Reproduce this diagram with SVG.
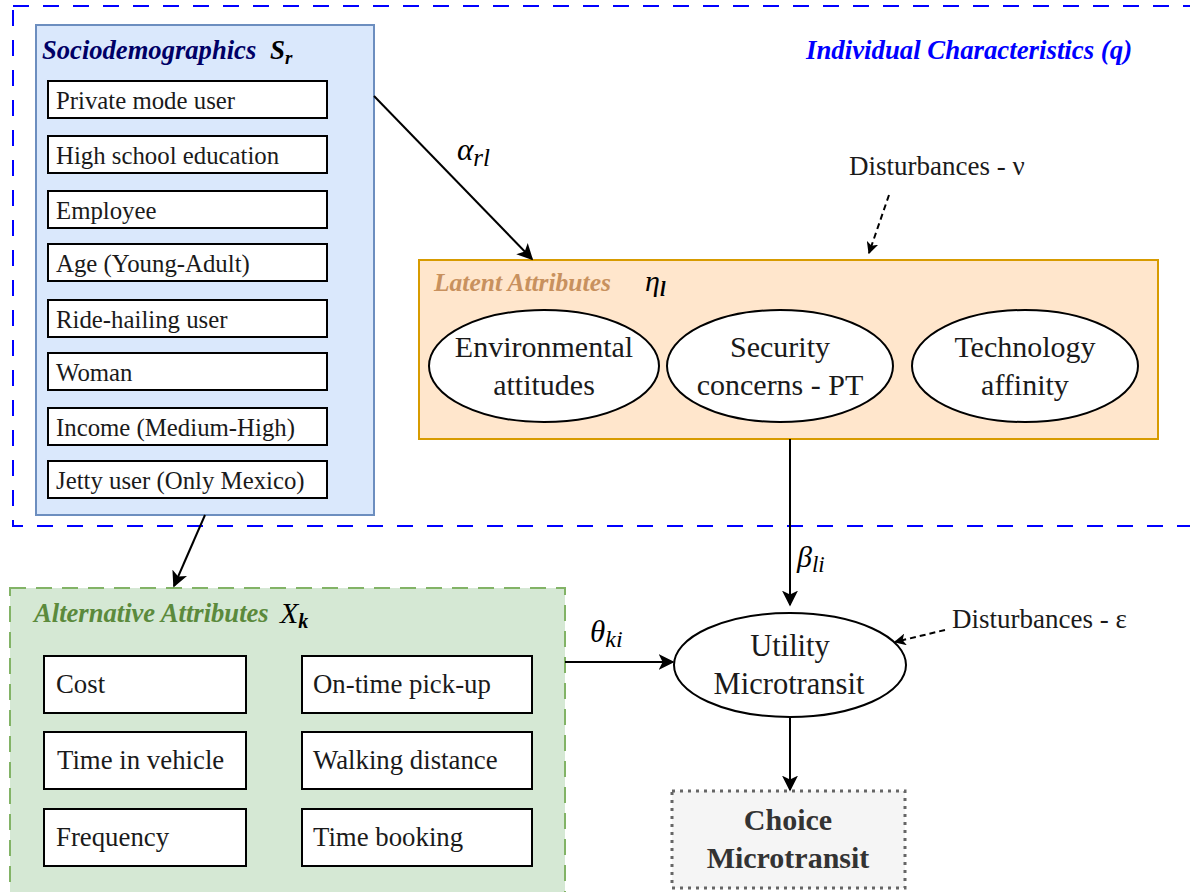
<svg xmlns="http://www.w3.org/2000/svg" width="1190" height="892" viewBox="0 0 1190 892">
<defs>
<marker id="ah" viewBox="0 0 10 10" refX="9" refY="5" markerWidth="12" markerHeight="12" markerUnits="userSpaceOnUse" orient="auto"><path d="M0,0 L10,5 L0,10 L2.5,5 Z" fill="#000"/></marker>
<marker id="ahl" viewBox="0 0 10 10" refX="9" refY="5" markerWidth="16" markerHeight="16" markerUnits="userSpaceOnUse" orient="auto"><path d="M0,0 L10,5 L0,10 L2.5,5 Z" fill="#000"/></marker>
</defs>
<style>
.item{fill:#fff;stroke:#000;stroke-width:2;}
.ell{fill:#fff;stroke:#000;stroke-width:2;}
</style>
<rect x="0" y="0" width="1190" height="892" fill="#fff"/>
<g id="individual">
<rect x="13" y="6" width="1200" height="520" fill="none" stroke="#0000ff" stroke-width="2" stroke-dasharray="16 14"/>
<text x="806" y="59" font-size="26.8" font-weight="bold" font-style="italic" fill="#0000ff" font-family="Liberation Serif">Individual Characteristics (q)</text>
</g>
<g id="sociodemographics">
<rect x="36" y="25" width="338" height="490" fill="#dae8fc" stroke="#6c8ebf" stroke-width="2"/>
<text x="42" y="59" font-size="26.6" font-weight="bold" font-style="italic" fill="#000066" font-family="Liberation Serif">Sociodemographics</text>
<text x="270" y="59" font-size="27" font-weight="bold" font-style="italic" fill="#000" font-family="Liberation Serif">S<tspan font-size="19" dy="5">r</tspan></text>
<rect class="item" x="48" y="81" width="279" height="37"/>
<rect class="item" x="48" y="136" width="279" height="37"/>
<rect class="item" x="48" y="191" width="279" height="37"/>
<rect class="item" x="48" y="244" width="279" height="37"/>
<rect class="item" x="48" y="300" width="279" height="37"/>
<rect class="item" x="48" y="353" width="279" height="37"/>
<rect class="item" x="48" y="408" width="279" height="37"/>
<rect class="item" x="48" y="461" width="279" height="37"/>
<g font-size="24.8" fill="#1a1a1a" font-family="Liberation Serif">
<text x="56" y="109" font-family="Liberation Serif">Private mode user</text>
<text x="56" y="164" font-family="Liberation Serif">High school education</text>
<text x="56" y="219" font-family="Liberation Serif">Employee</text>
<text x="56" y="272" font-family="Liberation Serif">Age (Young-Adult)</text>
<text x="56" y="328" font-family="Liberation Serif">Ride-hailing user</text>
<text x="56" y="381" font-family="Liberation Serif">Woman</text>
<text x="56" y="436" font-family="Liberation Serif">Income (Medium-High)</text>
<text x="56" y="489" font-family="Liberation Serif">Jetty user (Only Mexico)</text>
</g>
</g>
<g id="latent">
<rect x="419" y="260" width="739" height="179" fill="#ffe6cc" stroke="#d79b00" stroke-width="2"/>
<text x="434" y="291" font-size="25.5" font-weight="bold" font-style="italic" fill="#c8915e" font-family="Liberation Serif">Latent Attributes</text>
<text x="645" y="291" font-size="30" font-style="italic" fill="#000" font-family="Liberation Serif">&#951;<tspan font-size="20" dy="5" font-weight="bold">l</tspan></text>
<g id="environmental"><ellipse class="ell" cx="544" cy="366" rx="115" ry="56"/><text x="544" y="357" font-size="30" fill="#1a1a1a" text-anchor="middle" font-family="Liberation Serif">Environmental</text><text x="544" y="395" font-size="30" fill="#1a1a1a" text-anchor="middle" font-family="Liberation Serif">attitudes</text></g>
<g id="security"><ellipse class="ell" cx="780" cy="366" rx="113" ry="56"/><text x="780" y="357" font-size="30" fill="#1a1a1a" text-anchor="middle" font-family="Liberation Serif">Security</text><text x="780" y="395" font-size="30" fill="#1a1a1a" text-anchor="middle" font-family="Liberation Serif">concerns - PT</text></g>
<g id="technology"><ellipse class="ell" cx="1025" cy="366" rx="113" ry="56"/><text x="1025" y="357" font-size="30" fill="#1a1a1a" text-anchor="middle" font-family="Liberation Serif">Technology</text><text x="1025" y="395" font-size="30" fill="#1a1a1a" text-anchor="middle" font-family="Liberation Serif">affinity</text></g>
</g>
<g id="alternative">
<rect x="10" y="588" width="555" height="320" fill="#d5e8d4" stroke="#82b366" stroke-width="2" stroke-dasharray="16 10"/>
<text x="34" y="622" font-size="26.6" font-weight="bold" font-style="italic" fill="#5b8a3c" font-family="Liberation Serif">Alternative Attributes</text>
<text x="280" y="623" font-size="30" font-style="italic" fill="#000" font-family="Liberation Serif">X<tspan font-size="20" dy="5" font-weight="bold">k</tspan></text>
<rect class="item" x="44" y="656" width="202" height="57"/>
<rect class="item" x="44" y="732" width="202" height="57"/>
<rect class="item" x="44" y="809" width="202" height="57"/>
<rect class="item" x="302" y="656" width="230" height="57"/>
<rect class="item" x="302" y="732" width="230" height="57"/>
<rect class="item" x="302" y="809" width="230" height="57"/>
<g font-size="26.8" fill="#1a1a1a" font-family="Liberation Serif">
<text x="56" y="693" font-family="Liberation Serif">Cost</text>
<text x="57" y="769" font-family="Liberation Serif">Time in vehicle</text>
<text x="56" y="846" font-family="Liberation Serif">Frequency</text>
<text x="313" y="693" font-family="Liberation Serif">On-time pick-up</text>
<text x="313" y="769" font-family="Liberation Serif">Walking distance</text>
<text x="313" y="846" font-family="Liberation Serif">Time booking</text>
</g>
</g>
<g id="utility">
<ellipse class="ell" cx="790" cy="665" rx="116" ry="52"/>
<text x="790" y="656" font-size="30.5" fill="#1a1a1a" text-anchor="middle" font-family="Liberation Serif">Utility</text>
<text x="789" y="694" font-size="30.5" fill="#1a1a1a" text-anchor="middle" font-family="Liberation Serif">Microtransit</text>
</g>
<g id="choice">
<rect x="672" y="791" width="233" height="97" fill="#f5f5f5" stroke="#666" stroke-width="3" stroke-dasharray="3 5"/>
<text x="788" y="830" font-size="30" font-weight="bold" fill="#333" text-anchor="middle" font-family="Liberation Serif">Choice</text>
<text x="788" y="868" font-size="30" font-weight="bold" fill="#333" text-anchor="middle" font-family="Liberation Serif">Microtransit</text>
</g>
<g id="labels">
<text x="849" y="175" font-size="27" fill="#1a1a1a" font-family="Liberation Serif">Disturbances - &#957;</text>
<text x="952" y="628" font-size="27" fill="#1a1a1a" font-family="Liberation Serif">Disturbances - &#949;</text>
<text x="457" y="160" font-size="31" font-style="italic" fill="#000" font-family="Liberation Serif">&#945;<tspan font-size="25" dy="6">rl</tspan></text>
<text x="797" y="567" font-size="30" font-style="italic" fill="#000" font-family="Liberation Serif">&#946;<tspan font-size="23" dy="5">li</tspan></text>
<text x="590" y="642" font-size="31" font-style="italic" fill="#000" font-family="Liberation Serif">&#952;<tspan font-size="24" dy="5">ki</tspan></text>
</g>
<g id="connectors" stroke="#000" stroke-width="2" fill="none">
<line x1="374" y1="96" x2="532" y2="259" marker-end="url(#ahl)"/>
<line x1="889" y1="195" x2="869" y2="253" stroke-dasharray="6 4" marker-end="url(#ah)"/>
<line x1="790" y1="439" x2="790" y2="605" marker-end="url(#ahl)"/>
<line x1="205" y1="515" x2="174" y2="586" marker-end="url(#ahl)"/>
<line x1="565" y1="662" x2="673" y2="662" marker-end="url(#ahl)"/>
<line x1="945" y1="630" x2="895" y2="642" stroke-dasharray="6 4" marker-end="url(#ah)"/>
<line x1="790" y1="717" x2="790" y2="790" marker-end="url(#ahl)"/>
</g>
</svg>
